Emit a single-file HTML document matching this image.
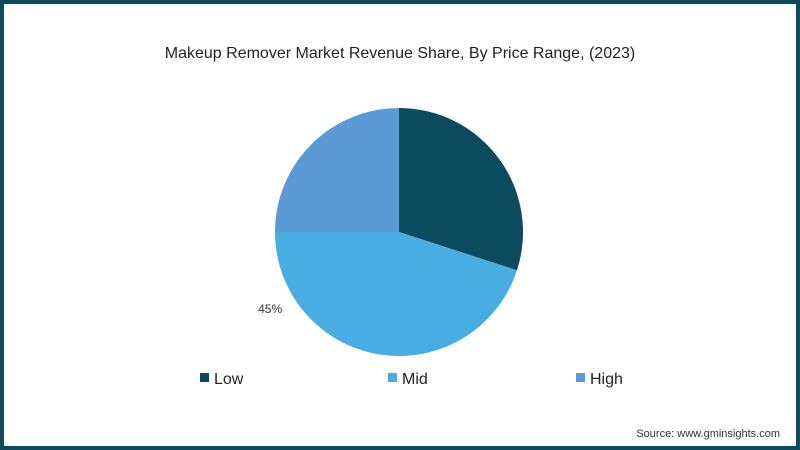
<!DOCTYPE html>
<html><head><meta charset="utf-8"><style>
body{margin:0;width:800px;height:450px;overflow:hidden;background:#fff;font-family:"Liberation Sans",sans-serif;}
#frame{position:absolute;left:0;top:0;width:792px;height:442px;border:4px solid #0e4a5c;background:#fff;}
</style></head><body>
<div id="frame"></div>
<svg width="800" height="450" style="position:absolute;left:0;top:0">
<text x="400" y="58" text-anchor="middle" font-size="16" fill="#222">Makeup Remover Market Revenue Share, By Price Range, (2023)</text>
<g id="pie"></g>
<g id="legend"></g>
<text x="780" y="437" text-anchor="end" font-size="11" fill="#333">Source: www.gminsights.com</text>
</svg>
<script>
const categories=["Low","Mid","High"];
const values=[30,45,25];
const colors=["#0c4a5e","#48ade0","#5b9bd5"];
const labels=["","45%",""];
const legendX=[200,388,576];
const cx=399,cy=232,r=124;
const NS="http://www.w3.org/2000/svg";
const pie=document.getElementById('pie');
const total=values.reduce((a,b)=>a+b,0);
let a0=0;
values.forEach((v,i)=>{
  const a1=a0+v/total*2*Math.PI;
  const p=(a)=>[cx+r*Math.sin(a),cy-r*Math.cos(a)];
  const [x0,y0]=p(a0),[x1,y1]=p(a1);
  const path=document.createElementNS(NS,'path');
  path.setAttribute('d',`M${cx},${cy}L${x0},${y0}A${r},${r} 0 ${a1-a0>Math.PI?1:0} 1 ${x1},${y1}Z`);
  path.setAttribute('fill',colors[i]);
  
  
  pie.appendChild(path);
  if(labels[i]){
    const am=a0+0.81*(a1-a0);
    const t=document.createElementNS(NS,'text');
    t.setAttribute('x',cx+(r+26)*Math.sin(am));
    t.setAttribute('y',cy-(r+26)*Math.cos(am)+4);
    t.setAttribute('text-anchor','middle');
    t.setAttribute('font-size','12');
    t.setAttribute('fill','#333');
    t.textContent=labels[i];
    
    
    pie.appendChild(t);
  }
  a0=a1;
});
const lg=document.getElementById('legend');
categories.forEach((c,i)=>{
  const g=document.createElementNS(NS,'g');
  
  
  const s=document.createElementNS(NS,'rect');
  s.setAttribute('x',legendX[i]);s.setAttribute('y',373);s.setAttribute('width',9);s.setAttribute('height',9);
  s.setAttribute('fill',colors[i]);
  const t=document.createElementNS(NS,'text');
  t.setAttribute('x',legendX[i]+14);t.setAttribute('y',384);t.setAttribute('font-size','16');t.setAttribute('fill','#222');
  t.textContent=c;
  g.appendChild(s);g.appendChild(t);lg.appendChild(g);
});
</script>
</body></html>
